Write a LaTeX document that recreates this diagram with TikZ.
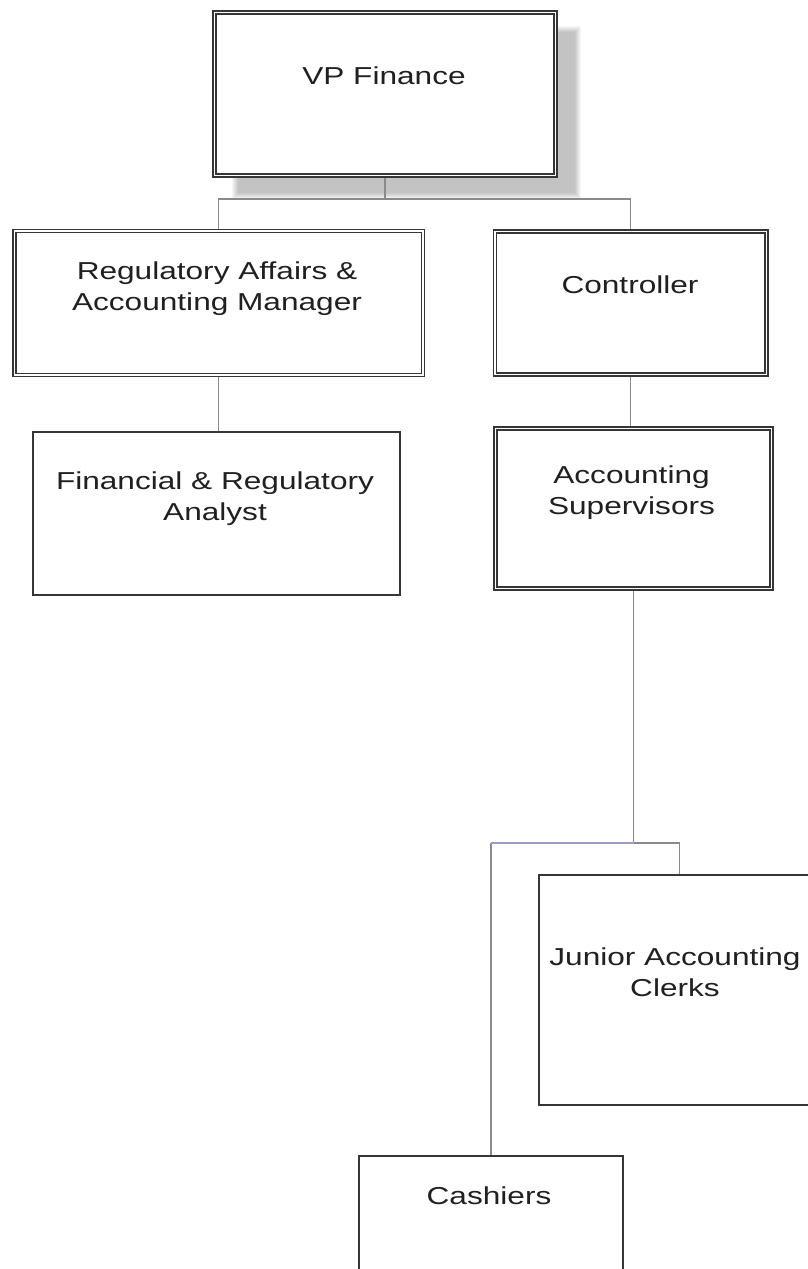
\documentclass[tikz,border=0pt]{standalone}
\usepackage{fontspec}
\setmainfont{Liberation Sans}[FakeStretch=1.29]
\definecolor{boxc}{HTML}{363636}
\definecolor{connc}{HTML}{8A8A8A}
\definecolor{txtc}{HTML}{202020}
\definecolor{lav}{HTML}{9C9CC8}
\pgfdeclarelayer{bg}
\pgfsetlayers{bg,main}
\tikzset{
  dbox/.style={draw=boxc, double=white, double distance=1.4pt, line width=1.5pt, fill=white, inner sep=0pt},
  sbox/.style={draw=boxc, line width=1.4pt, fill=white, inner sep=0pt},
  lbl/.style={text=txtc, align=center, font=\fontsize{24.5}{31}\selectfont, inner sep=0pt},
  conn/.style={draw=connc, line width=1.1pt},
}
\begin{document}
\begin{tikzpicture}[x=1pt, y=-1pt]
\useasboundingbox (0,0) rectangle (808,1269);
\clip (0,0) rectangle (808,1269);

% boxes
\node[dbox, minimum width=341pt, minimum height=163pt] (vp) at (385,94) {};
\node[lbl] (vpt) at (384,76) {VP Finance};

\node[dbox, minimum width=408.5pt, minimum height=144pt] (reg) at (218.75,303) {};
\node[lbl] (regt) at (217,289) {Regulatory Affairs \&\\Accounting Manager};

\node[sbox, minimum width=367pt, minimum height=163pt] (fin) at (216.5,513.5) {};
\node[lbl] (fint) at (215,498.5) {Financial \& Regulatory\\Analyst};

\node[dbox, minimum width=271.5pt, minimum height=143pt] (ctrl) at (630.75,303) {};
\node[lbl] (ctrlt) at (630,285) {Controller};

\node[dbox, minimum width=276pt, minimum height=160pt] (sup) at (633.5,508.5) {};
\node[lbl] (supt) at (631.5,493) {Accounting\\Supervisors};

\node[sbox, minimum width=281pt, minimum height=230pt] (jun) at (679.5,990) {};
\node[lbl] (junt) at (675,972.5) {Junior Accounting\\Clerks};

\node[sbox, minimum width=264pt, minimum height=134pt] (cash) at (491,1223) {};
\node[lbl] (casht) at (489,1196) {Cashiers};

% junction points of the connectors
\coordinate (j1) at (385,199);
\coordinate (j2) at (633.5,843);

\begin{pgfonlayer}{bg}
  \fill[white] (0,0) rectangle (808,1269);
  % soft drop shadow of the top box
  \foreach \d in {0,1,...,6}
    \fill[black, opacity=0.034] (238-\d,32-\d) rectangle (575+\d,193+\d);
  % connectors
  \draw[conn] (vp.south) -- (j1);
  \draw[conn] (reg.north) |- (j1) -| (ctrl.north);
  \draw[conn] (reg.south) -- (reg.south |- fin.north);
  \draw[conn] (ctrl.south) -- (ctrl.south |- sup.north);
  \draw[conn] (sup.south) -- (j2);
  \draw[conn] (cash.north) -- (cash.north |- j2);
  \draw[conn, draw=lav] (cash.north |- j2) -- (j2);
  \draw[conn] (j2) -| (jun.north);
\end{pgfonlayer}
\end{tikzpicture}
\end{document}
